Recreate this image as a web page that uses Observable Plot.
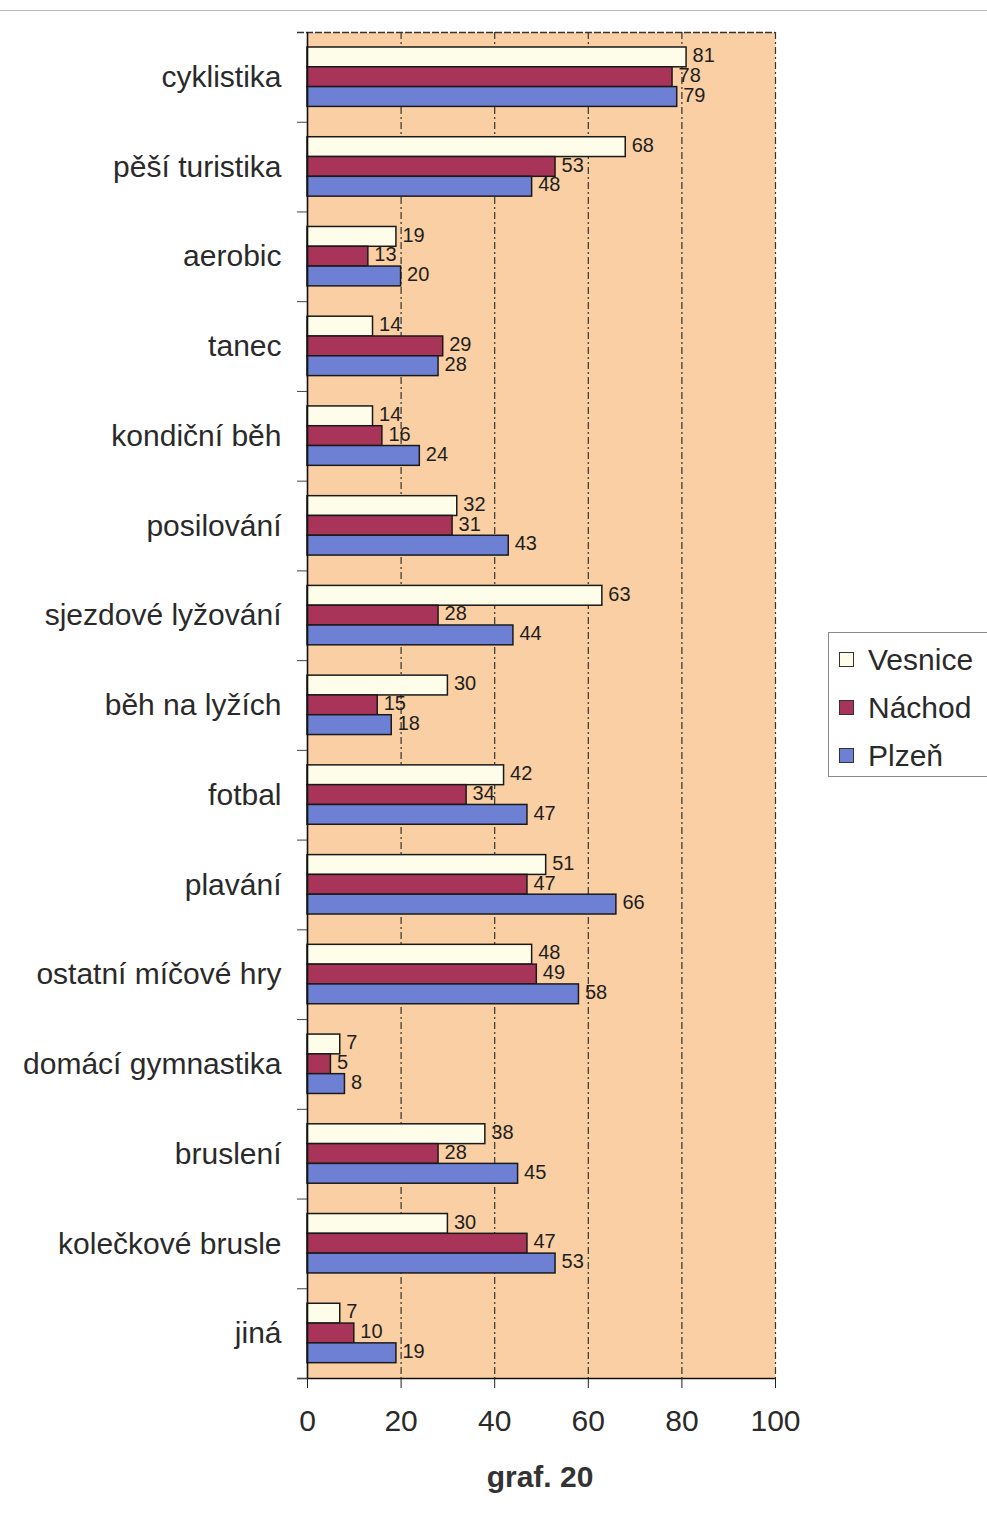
<!DOCTYPE html>
<html>
<head>
<meta charset="utf-8">
<script src="https://cdn.jsdelivr.net/npm/d3@7"></script>
<script src="https://cdn.jsdelivr.net/npm/@observablehq/plot@0.6"></script>
<style>
  html, body { margin: 0; padding: 0; background: #fff; }
  body { position: relative; width: 987px; height: 1523px; overflow: hidden; font-family: "Liberation Sans", Arial, sans-serif; }
  #topline { position: absolute; left: 0; top: 10px; width: 987px; height: 1px; background: #b8b8b8; }
  #chart { position: absolute; left: 0; top: 0; }
  #chart svg { display: block; }
  #legend { position: absolute; left: 828px; top: 632px; width: 175px; height: 143px; border: 1px solid #8a8a8a; background: #fff; }
  .item { position: absolute; left: 10px; font-size: 30px; color: #2a2a2a; line-height: 30px; }
  .sw { display: inline-block; width: 13px; height: 13px; border: 1.5px solid #333; margin-right: 14px; vertical-align: 3px; }
  #title { position: absolute; left: 440px; top: 1460px; width: 200px; text-align: center; font-weight: bold; font-size: 30px; color: #333; }
</style>
</head>
<body>
<div id="topline"></div>
<div id="chart"></div>
<div id="legend"></div>
<div id="title">graf. 20</div>
<script>
const categories = ["cyklistika", "pěší turistika", "aerobic", "tanec", "kondiční běh", "posilování", "sjezdové lyžování", "běh na lyžích", "fotbal", "plavání", "ostatní míčové hry", "domácí gymnastika", "bruslení", "kolečkové brusle", "jiná"];
const vesnice = [81, 68, 19, 14, 14, 32, 63, 30, 42, 51, 48, 7, 38, 30, 7];
const nachod  = [78, 53, 13, 29, 16, 31, 28, 15, 34, 47, 49, 5, 28, 47, 10];
const plzen   = [79, 48, 20, 28, 24, 43, 44, 18, 47, 66, 58, 8, 45, 53, 19];
const seriesNames = ["Vesnice", "Náchod", "Plzeň"];
const seriesColors = ["#fefde9", "#a8345a", "#6d80d3"];
const xTicks = [0, 20, 40, 60, 80, 100];
const gridValues = [20, 40, 60, 80, 100];

const seriesValues = [vesnice, nachod, plzen];

const W = 987, H = 1450, mT = 32, mB = 72, mL = 307, mR = 212;
const band = (H - mT - mB) / categories.length;
const barH = 19.8, firstInset = 15;
const pxPerUnit = (W - mL - mR) / 100;
const tickLen = 10 / pxPerUnit;

const barMarks = [];
const labelMarks = [];
seriesNames.forEach((name, i) => {
  const rows = categories.map((c, j) => ({category: c, series: name, value: seriesValues[i][j]}));
  const insetTop = firstInset + barH * i;
  barMarks.push(Plot.barX(rows, {
    x: "value", y: "category", fill: seriesColors[i], stroke: "#1a1a1a", strokeWidth: 1.5,
    insetTop: insetTop, insetBottom: band - insetTop - barH
  }));
  const center = insetTop + barH / 2 - band / 2;
  labelMarks.push(Plot.text(rows, {
    x: "value", y: "category", text: d => String(d.value), dx: 6, dy: center - 1,
    textAnchor: "start", fontSize: 20, lineHeight: 0.9, fill: "#1e1e1e"
  }));
});

const chart = Plot.plot({
  width: W, height: H,
  marginTop: mT, marginBottom: mB, marginLeft: mL, marginRight: mR,
  style: {fontFamily: "'Liberation Sans', Arial, sans-serif", color: "#2a2a2a", background: "transparent"},
  x: {domain: [0, 100], label: null},
  y: {domain: categories, padding: 0, round: false, label: null},
  marks: [
    Plot.frame({fill: "#f9cfa3", stroke: null}),
    Plot.ruleX(gridValues, {stroke: "#333", strokeWidth: 1.2, strokeDasharray: "7,3,2,3"}),
    Plot.ruleY([categories[0]], {x1: -tickLen, x2: 100, dy: -band / 2, stroke: "#333", strokeWidth: 1.5, strokeDasharray: "7,2"}),
    ...barMarks,
    ...labelMarks,
    Plot.ruleX([0], {stroke: "#111", strokeWidth: 1.6}),
    Plot.ruleY([categories[categories.length - 1]], {x1: -tickLen, x2: 100, dy: band / 2, stroke: "#111", strokeWidth: 1.6}),
    Plot.ruleY(categories, {x1: -tickLen, x2: 0, dy: band / 2, stroke: "#444", strokeWidth: 1}),
    Plot.axisX({ticks: xTicks, tickSize: 10, tickPadding: 21, fontSize: 30, label: null, stroke: "#222"}),
    Plot.axisY({tickSize: 0, tickPadding: 26, fontSize: 30, label: null})
  ]
});
document.getElementById("chart").appendChild(chart);

const legend = document.getElementById("legend");
seriesNames.forEach((name, i) => {
  const div = document.createElement("div");
  div.className = "item";
  div.style.top = (12 + i * 48) + "px";
  const sw = document.createElement("span");
  sw.className = "sw";
  sw.style.background = seriesColors[i];
  div.appendChild(sw);
  div.appendChild(document.createTextNode(name));
  legend.appendChild(div);
});
</script>
</body>
</html>
